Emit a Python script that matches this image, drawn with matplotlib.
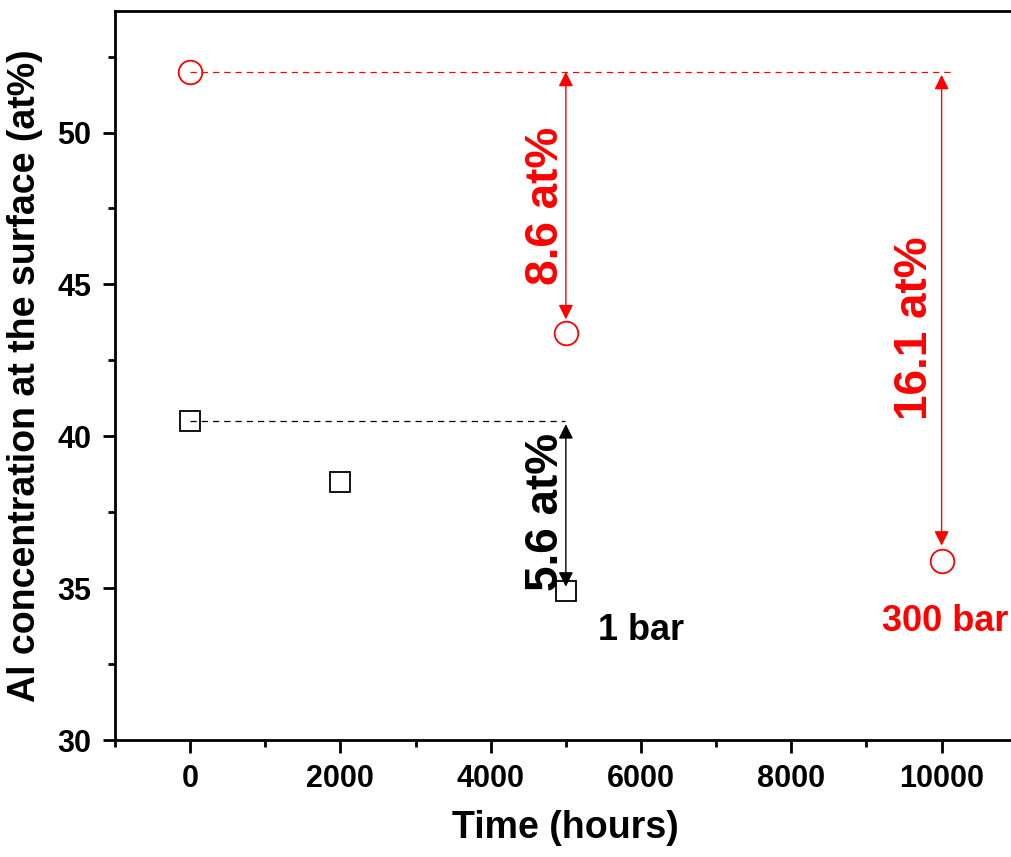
import matplotlib
matplotlib.use("Agg")
import matplotlib.pyplot as plt
from matplotlib.ticker import MultipleLocator

plt.rcParams["font.family"] = ["Liberation Sans", "DejaVu Sans"]
plt.rcParams["font.weight"] = "bold"

# 1 bar series (black squares)
time_1bar = [0, 2000, 5000]
al_1bar = [40.5, 38.5, 34.9]
# 300 bar series (red circles)
time_300bar = [0, 5000, 10000]
al_300bar = [52.0, 43.4, 35.9]

# drops shown by the arrows
drop_labels = ["5.6 at%", "8.6 at%", "16.1 at%"]

fig = plt.figure(figsize=(10.11, 8.57), dpi=100)
ax = fig.add_axes([0.1137, 0.1365, 0.892, 0.8506])

ax.plot(time_1bar, al_1bar, ls="none", marker="s", ms=14, mfc="none",
        mec="black", mew=1.3)
ax.plot(time_300bar, al_300bar, ls="none", marker="o", ms=17, mfc="none",
        mec="red", mew=1.3)

# reference dashed lines
ax.plot([time_300bar[0], 10170], [al_300bar[0], al_300bar[0]], ls=(0, (5, 4)),
        color="red", lw=0.9)
ax.plot([time_1bar[0], 4990], [al_1bar[0], al_1bar[0]], ls=(0, (5, 4)),
        color="black", lw=0.9)

# double arrows
arrow = dict(arrowstyle="<|-|>", mutation_scale=22, lw=1, shrinkA=0, shrinkB=0)
ax.annotate("", xy=(5000, 43.85), xytext=(5000, 52.0),
            arrowprops=dict(arrow, color="red"))
ax.annotate("", xy=(10000, 36.4), xytext=(10000, 51.9),
            arrowprops=dict(arrow, color="red"))
ax.annotate("", xy=(5000, 35.05), xytext=(5000, 40.4),
            arrowprops=dict(arrow, color="black"))

ax.text(4730, 37.5, drop_labels[0], rotation=90, color="black", fontsize=33,
        fontweight="bold", ha="center", va="center")
ax.text(4730, 47.57, drop_labels[1], rotation=90, color="red", fontsize=33,
        fontweight="bold", ha="center", va="center")
ax.text(9650, 43.55, drop_labels[2], rotation=90, color="red", fontsize=33,
        fontweight="bold", ha="center", va="center")
ax.text(6000, 33.6, "1 bar", color="black", fontsize=26, fontweight="bold",
        ha="center", va="center")
ax.text(10050, 33.9, "300 bar", color="red", fontsize=26, fontweight="bold",
        ha="center", va="center")

ax.set_xlim(-1000, 11000)
ax.set_ylim(30, 54)
ax.xaxis.set_major_locator(MultipleLocator(2000))
ax.xaxis.set_minor_locator(MultipleLocator(1000))
ax.yaxis.set_major_locator(MultipleLocator(5))
ax.yaxis.set_minor_locator(MultipleLocator(2.5))
ax.tick_params(which="major", direction="out", length=9, width=2,
               labelsize=22, pad=8)
ax.tick_params(which="minor", direction="out", length=5, width=2)
ax.tick_params(top=False, right=False, which="both")
for s in ax.spines.values():
    s.set_linewidth(2)

ax.set_xlabel("Time (hours)", fontsize=27, fontweight="bold", labelpad=12)
ax.set_ylabel("Al concentration at the surface (at%)", fontsize=27,
              fontweight="bold", labelpad=10)

fig.savefig("out.png", dpi=100)
